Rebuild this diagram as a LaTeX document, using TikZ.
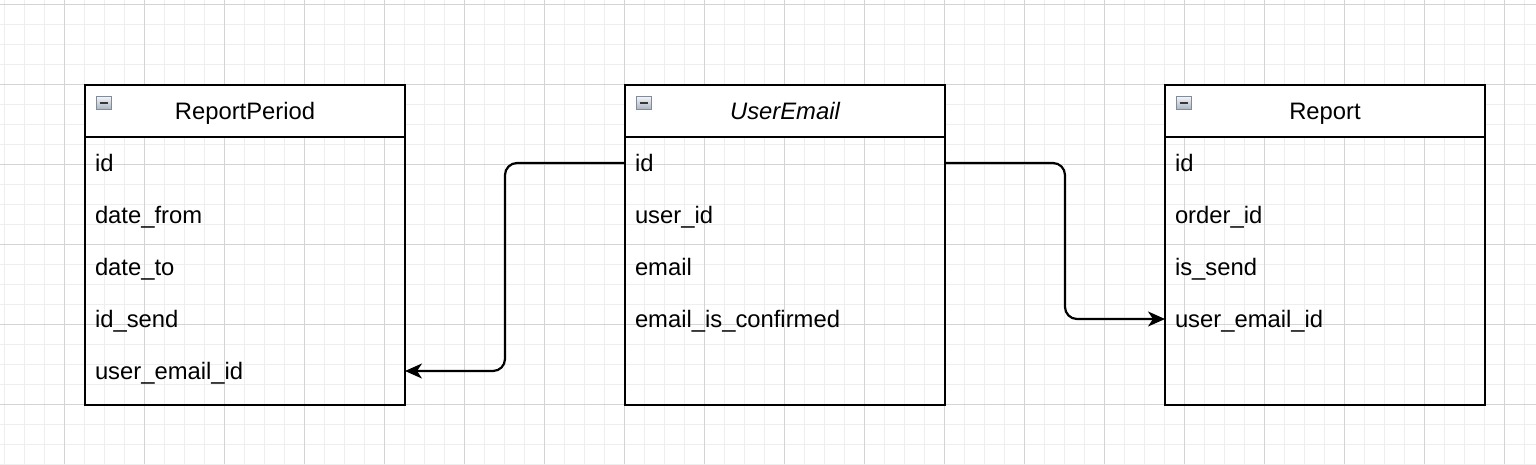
\documentclass[tikz,border=0pt]{standalone}
\usepackage{fontspec}
\setmainfont{Liberation Sans}
\usetikzlibrary{arrows.meta}
\definecolor{gridminor}{RGB}{238,238,238}
\definecolor{gridmajor}{RGB}{212,212,212}
\definecolor{iconedge}{RGB}{130,140,152}
\definecolor{icontop}{RGB}{245,247,250}
\definecolor{iconbot}{RGB}{170,180,192}
\definecolor{iconbar}{RGB}{55,55,55}
\begin{document}
\begin{tikzpicture}[x=1pt,y=-1pt,
  minorline/.style={draw=gridminor, line width=1pt},
  majorline/.style={draw=gridmajor, line width=1pt},
  tablebox/.style={draw, line width=2.5pt, minimum width=320pt, minimum height=320pt, inner sep=0pt, outer sep=0pt, anchor=north west},
  headbox/.style={draw, line width=2.5pt, fill=white, minimum width=320pt, minimum height=52pt, inner xsep=10pt, inner ysep=0pt, outer sep=0pt, text height=17pt, text depth=0pt, text width=300pt, align=center, anchor=north west, font=\fontsize{23.8}{28}\selectfont},
  rowbox/.style={minimum width=320pt, minimum height=52pt, inner xsep=10pt, inner ysep=0pt, outer sep=0pt, text height=17pt, text depth=0pt, text width=300pt, align=left, anchor=north west, font=\fontsize{23.8}{28}\selectfont},
  iconbox/.style={draw=iconedge, line width=0.9pt, top color=icontop, bottom color=iconbot},
  iconbar/.style={draw=iconbar, line width=2.2pt},
  conn/.style={draw, line width=2.2pt, rounded corners=12pt, -{Stealth[length=17pt,width=15pt,inset=5pt]}}
]
\useasboundingbox (0,0) rectangle (1536,464);
\fill[white] (0,0) rectangle (1536,464);
% grid
\foreach \i in {0,...,76} { \draw[minorline] (4+20*\i,0) -- (4+20*\i,464); }
\foreach \j in {0,...,23} { \draw[minorline] (0,4+20*\j) -- (1536,4+20*\j); }
\foreach \i in {0,...,19} { \draw[majorline] (64+80*\i,0) -- (64+80*\i,464); }
\foreach \j in {0,...,5} { \draw[majorline] (0,4+80*\j) -- (1536,4+80*\j); }

% ReportPeriod
\node[tablebox] (rp) at (85,85) {};
\node[headbox] (rp-h) at (85,85) {ReportPeriod};
\node[rowbox] (rp-r1) at (85,137) {id};
\node[rowbox] (rp-r2) at (85,189) {date\_from};
\node[rowbox] (rp-r3) at (85,241) {date\_to};
\node[rowbox] (rp-r4) at (85,293) {id\_send};
\node[rowbox] (rp-r5) at (85,345) {user\_email\_id};

% UserEmail
\node[tablebox] (ue) at (625,85) {};
\node[headbox] (ue-h) at (625,85) {\itshape UserEmail};
\node[rowbox] (ue-r1) at (625,137) {id};
\node[rowbox] (ue-r2) at (625,189) {user\_id};
\node[rowbox] (ue-r3) at (625,241) {email};
\node[rowbox] (ue-r4) at (625,293) {email\_is\_confirmed};

% Report
\node[tablebox] (re) at (1165,85) {};
\node[headbox] (re-h) at (1165,85) {Report};
\node[rowbox] (re-r1) at (1165,137) {id};
\node[rowbox] (re-r2) at (1165,189) {order\_id};
\node[rowbox] (re-r3) at (1165,241) {is\_send};
\node[rowbox] (re-r4) at (1165,293) {user\_email\_id};

% collapse icons
\foreach \x in {85,625,1165} {
  \draw[iconbox] (\x+11.5,96) rectangle (\x+26,109.5);
  \draw[iconbar] (\x+14.5,102.8) -- (\x+23,102.8);
}

% connectors
\draw[conn] (ue-r1.west) -- ++(-120,0) |- (rp-r5.east);
\draw[conn] (ue-r1.east) -- ++(120,0) |- (re-r4.west);
\end{tikzpicture}
\end{document}
